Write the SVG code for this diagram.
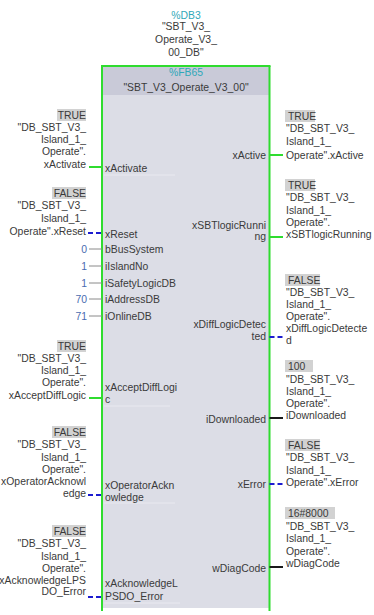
<svg xmlns="http://www.w3.org/2000/svg" width="374" height="615" viewBox="0 0 374 615">
  <style>
    text { font-family: "Liberation Sans", Arial, sans-serif; font-size: 10.4px; fill: #3a3a3a; }
    .ref { fill: #2fa8b8; }
    .mid { text-anchor: middle; }
    .l { text-anchor: end; }
    .num { fill: #4a6cb0; }
    .val { fill: #d2d2d2; }
    .w-bool { stroke: #2fdc2f; stroke-width: 2; fill: none; }
    .w-dash { stroke: #1c1cd0; stroke-width: 2; stroke-dasharray: 5 3; fill: none; }
    .w-word { stroke: #1a1a1a; stroke-width: 2; fill: none; }
    .w-const { stroke: #8a8a8a; stroke-width: 1; fill: none; }
    .sep { stroke: #e9e9f0; stroke-width: 1; }
  </style>

  <!-- instance data block -->
  <g id="instance-db">
    <text class="ref mid" x="186" y="19">%DB3</text>
    <text class="mid" x="186" y="30">"SBT_V3_</text>
    <text class="mid" x="186" y="43">Operate_V3_</text>
    <text class="mid" x="186" y="56">00_DB"</text>
  </g>

  <!-- function block box -->
  <g id="fb-block">
    <rect x="102" y="66" width="167.5" height="542" fill="#dcdde6"/>
    <rect x="102" y="66" width="167.5" height="29" fill="#c9cad8"/>
    <line x1="102" y1="66" x2="102" y2="611" stroke="#2fdc2f" stroke-width="2"/>
    <line x1="269.5" y1="66" x2="269.5" y2="611" stroke="#2fdc2f" stroke-width="2"/>
    <line x1="101" y1="66" x2="270.5" y2="66" stroke="#2fdc2f" stroke-width="2"/>
    <text class="ref mid" x="186" y="76">%FB65</text>
    <text class="mid" x="186" y="91">"SBT_V3_Operate_V3_00"</text>
    <line class="sep" x1="104" y1="175" x2="175" y2="175"/>
    <line class="sep" x1="104" y1="406" x2="170" y2="406"/>
    <line class="sep" x1="104" y1="503" x2="175" y2="503"/>
    <line class="sep" x1="104" y1="603" x2="180" y2="603"/>
  </g>

  <!-- connectors -->
  <g id="connectors">
    <line class="w-bool" x1="89" y1="167" x2="102" y2="167"/>
    <line class="w-dash" x1="88" y1="233" x2="102" y2="233"/>
    <line class="w-const" x1="89" y1="249" x2="102" y2="249"/>
    <line class="w-const" x1="89" y1="266" x2="102" y2="266"/>
    <line class="w-const" x1="89" y1="283" x2="102" y2="283"/>
    <line class="w-const" x1="89" y1="299" x2="102" y2="299"/>
    <line class="w-const" x1="89" y1="316" x2="102" y2="316"/>
    <line class="w-bool" x1="89" y1="398" x2="102" y2="398"/>
    <line class="w-dash" x1="88" y1="495" x2="102" y2="495"/>
    <line class="w-dash" x1="88" y1="597" x2="102" y2="597"/>

    <line class="w-bool" x1="269.5" y1="155" x2="283" y2="155"/>
    <line class="w-bool" x1="269.5" y1="237" x2="283" y2="237"/>
    <line class="w-dash" x1="269.5" y1="337" x2="284" y2="337"/>
    <line class="w-word" x1="269.5" y1="418" x2="283" y2="418"/>
    <line class="w-dash" x1="269.5" y1="484" x2="284" y2="484"/>
    <line class="w-word" x1="269.5" y1="567" x2="283" y2="567"/>
  </g>

  <!-- inputs -->
  <g id="in-xActivate">
    <rect class="val" x="57" y="109" width="29" height="12"/>
    <text class="l" x="86" y="119">TRUE</text>
    <text class="l" x="86" y="131">"DB_SBT_V3_</text>
    <text class="l" x="86" y="143">Island_1_</text>
    <text class="l" x="86" y="155">Operate".</text>
    <text class="l" x="86" y="168">xActivate</text>
    <text x="105" y="172">xActivate</text>
  </g>
  <g id="in-xReset">
    <rect class="val" x="52" y="187" width="34" height="12"/>
    <text class="l" x="86" y="197">FALSE</text>
    <text class="l" x="86" y="209">"DB_SBT_V3_</text>
    <text class="l" x="86" y="222">Island_1_</text>
    <text class="l" x="86" y="235">Operate".xReset</text>
    <text x="105" y="238">xReset</text>
  </g>
  <g id="in-bBusSystem">
    <text class="l num" x="87" y="253">0</text>
    <text x="105" y="253">bBusSystem</text>
  </g>
  <g id="in-iIslandNo">
    <text class="l num" x="87" y="270">1</text>
    <text x="105" y="270">iIslandNo</text>
  </g>
  <g id="in-iSafetyLogicDB">
    <text class="l num" x="87" y="287">1</text>
    <text x="105" y="287">iSafetyLogicDB</text>
  </g>
  <g id="in-iAddressDB">
    <text class="l num" x="87" y="303">70</text>
    <text x="105" y="303">iAddressDB</text>
  </g>
  <g id="in-iOnlineDB">
    <text class="l num" x="87" y="320">71</text>
    <text x="105" y="320">iOnlineDB</text>
  </g>
  <g id="in-xAcceptDiffLogic">
    <rect class="val" x="57" y="340" width="29" height="12"/>
    <text class="l" x="86" y="350">TRUE</text>
    <text class="l" x="86" y="362">"DB_SBT_V3_</text>
    <text class="l" x="86" y="374">Island_1_</text>
    <text class="l" x="86" y="386">Operate".</text>
    <text class="l" x="86" y="399">xAcceptDiffLogic</text>
    <text x="105" y="391">xAcceptDiffLogi</text>
    <text x="105" y="403">c</text>
  </g>
  <g id="in-xOperatorAcknowledge">
    <rect class="val" x="52" y="426" width="34" height="12"/>
    <text class="l" x="86" y="436">FALSE</text>
    <text class="l" x="86" y="448">"DB_SBT_V3_</text>
    <text class="l" x="86" y="461">Island_1_</text>
    <text class="l" x="86" y="473">Operate".</text>
    <text class="l" x="86" y="485">xOperatorAcknowl</text>
    <text class="l" x="86" y="497">edge</text>
    <text x="105" y="489">xOperatorAckn</text>
    <text x="105" y="501">owledge</text>
  </g>
  <g id="in-xAcknowledgeLPSDO_Error">
    <rect class="val" x="52" y="525" width="34" height="12"/>
    <text class="l" x="86" y="535">FALSE</text>
    <text class="l" x="86" y="547">"DB_SBT_V3_</text>
    <text class="l" x="86" y="560">Island_1_</text>
    <text class="l" x="86" y="572">Operate".</text>
    <text class="l" x="86" y="584">xAcknowledgeLPS</text>
    <text class="l" x="86" y="595">DO_Error</text>
    <text x="105" y="587">xAcknowledgeL</text>
    <text x="105" y="600">PSDO_Error</text>
  </g>

  <!-- outputs -->
  <g id="out-xActive">
    <rect class="val" x="285" y="110" width="30" height="12"/>
    <text x="288" y="120">TRUE</text>
    <text x="286" y="132">"DB_SBT_V3_</text>
    <text x="286" y="145">Island_1_</text>
    <text x="286" y="159">Operate".xActive</text>
    <text class="l" x="266" y="159">xActive</text>
  </g>
  <g id="out-xSBTlogicRunning">
    <rect class="val" x="285" y="179" width="30" height="12"/>
    <text x="288" y="189">TRUE</text>
    <text x="286" y="201">"DB_SBT_V3_</text>
    <text x="286" y="214">Island_1_</text>
    <text x="286" y="226">Operate".</text>
    <text x="286" y="238">xSBTlogicRunning</text>
    <text class="l" x="266" y="229">xSBTlogicRunni</text>
    <text class="l" x="266" y="240">ng</text>
  </g>
  <g id="out-xDiffLogicDetected">
    <rect class="val" x="285" y="274" width="35" height="12"/>
    <text x="288" y="284">FALSE</text>
    <text x="286" y="296">"DB_SBT_V3_</text>
    <text x="286" y="308">Island_1_</text>
    <text x="286" y="320">Operate".</text>
    <text x="286" y="332">xDiffLogicDetecte</text>
    <text x="286" y="344">d</text>
    <text class="l" x="266" y="328">xDiffLogicDetec</text>
    <text class="l" x="266" y="340">ted</text>
  </g>
  <g id="out-iDownloaded">
    <rect class="val" x="285" y="360" width="28" height="12"/>
    <text x="288" y="370">100</text>
    <text x="286" y="383">"DB_SBT_V3_</text>
    <text x="286" y="395">Island_1_</text>
    <text x="286" y="407">Operate".</text>
    <text x="286" y="419">iDownloaded</text>
    <text class="l" x="266" y="423">iDownloaded</text>
  </g>
  <g id="out-xError">
    <rect class="val" x="285" y="439" width="35" height="12"/>
    <text x="288" y="449">FALSE</text>
    <text x="286" y="461">"DB_SBT_V3_</text>
    <text x="286" y="474">Island_1_</text>
    <text x="286" y="486">Operate".xError</text>
    <text class="l" x="266" y="488">xError</text>
  </g>
  <g id="out-wDiagCode">
    <rect class="val" x="285" y="507" width="50" height="12"/>
    <text x="288" y="517">16#8000</text>
    <text x="286" y="530">"DB_SBT_V3_</text>
    <text x="286" y="542">Island_1_</text>
    <text x="286" y="555">Operate".</text>
    <text x="286" y="567">wDiagCode</text>
    <text class="l" x="266" y="572">wDiagCode</text>
  </g>
</svg>
